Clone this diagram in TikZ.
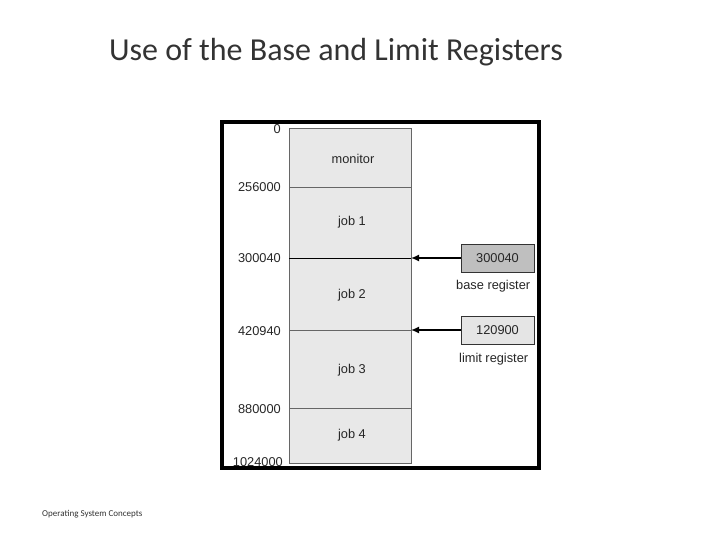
\documentclass[tikz,border=0pt]{standalone}
\usepackage{fontspec}
\setmainfont{Liberation Sans}
\newfontfamily\titlefont{Carlito}
\usetikzlibrary{arrows.meta}
\begin{document}
\begin{tikzpicture}[x=1pt,y=-1pt,
  lab/.style={font=\fontsize{12.8}{14}\selectfont, text=black!85},
  addr/.style={lab, anchor=east, inner sep=0pt},
  regbox/.style={draw=black!80, line width=0.9pt, minimum width=73pt, minimum height=28pt, inner sep=0pt, lab},
  arr/.style={line width=1.4pt, -{Latex[length=8pt,width=7pt]}}]
\useasboundingbox (0,0) rectangle (720,540);
\node[font=\titlefont\fontsize{32}{36}\selectfont, text=black!80] (title) at (336,52) {Use of the Base and Limit Registers};
\node[font=\titlefont\fontsize{9}{10}\selectfont, anchor=west, inner sep=0pt, text=black!80] (foot) at (42,514) {Operating System Concepts};
\draw[line width=3.5pt, fill=white] (222,122) rectangle (539,468);
\begin{scope}
\clip (223.8,123.8) rectangle (537.2,466.2);
\draw[black!60, fill=black!9, line width=0.6pt] (289,128) rectangle (411,463);
\foreach \yy in {187,258,330,408} \draw[black!60, line width=0.8pt] (289,\yy) -- (411,\yy);
\draw[black, line width=0.8pt] (289,258) -- (411,258);
\node[lab] (m0) at (353,159) {monitor};
\node[lab] (m1) at (352,222) {job 1};
\node[lab] (m2) at (352,295) {job 2};
\node[lab] (m3) at (352,370) {job 3};
\node[lab] (m4) at (352,435) {job 4};
\node[addr] (a0) at (281,129) {0};
\node[addr] (a1) at (281,187) {256000};
\node[addr] (a2) at (281,258) {300040};
\node[addr] (a3) at (281,331) {420940};
\node[addr] (a4) at (281,409) {880000};
\node[addr] (a5) at (283,462) {1024000};
\node[regbox, fill=black!25] (base) at (497.5,258) {300040};
\node[regbox, fill=black!10] (limit) at (497.5,330) {120900};
\node[lab, anchor=west, inner sep=0pt] (bl) at (456,286) {base register};
\node[lab, anchor=west, inner sep=0pt] (ll) at (459,359) {limit register};
\coordinate (bt) at (411,258);
\coordinate (lt) at (411,330);
\draw[arr] (base.west) -- (bt);
\draw[arr] (limit.west) -- (lt);
\end{scope}
\end{tikzpicture}
\end{document}
